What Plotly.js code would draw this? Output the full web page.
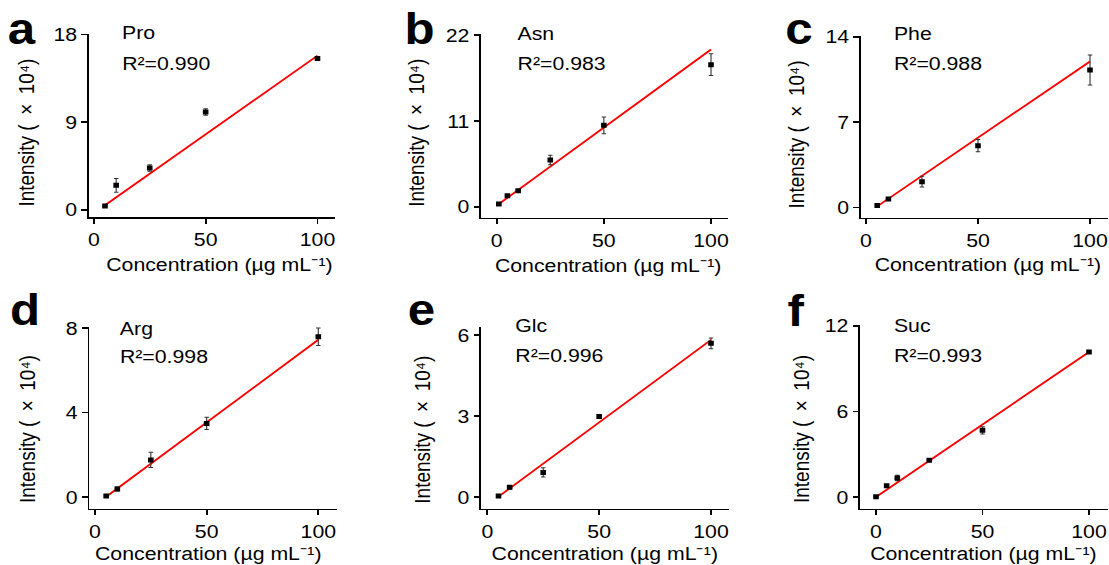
<!DOCTYPE html>
<html>
<head>
<meta charset="utf-8">
<script src="https://cdn.plot.ly/plotly-3.0.1.min.js"></script>
<style>
  html, body { margin: 0; padding: 0; background: #fff; overflow: hidden; }
  #wrap { width: 1109px; height: 565px; overflow: hidden; }
  /* the figure is laid out narrower and widened to the page width */
  #chart { width: 990px; height: 565px; transform-origin: 0 0; }
</style>
</head>
<body>
<div id="wrap"><div id="chart"></div></div>
<script>
// ---- calibration data (intensity in units of 10^4) ----
const proConc = [5, 10, 25, 50, 100];
const proInt  = [0.38, 2.5, 4.29, 10.04, 15.53];
const proErr  = [0.1, 0.7, 0.33, 0.33, 0.15];

const asnConc = [1, 5, 10, 25, 50, 100];
const asnInt  = [0.34, 1.41, 2.05, 5.98, 10.43, 18.2];
const asnErr  = [0.1, 0.15, 0.1, 0.6, 1.07, 1.4];

const pheConc = [5, 10, 25, 50, 100];
const pheInt  = [0.14, 0.68, 2.1, 5.06, 11.27];
const pheErr  = [0.05, 0.1, 0.44, 0.5, 1.23];

const argConc = [5, 10, 25, 50, 100];
const argInt  = [0.05, 0.38, 1.76, 3.49, 7.6];
const argErr  = [0.05, 0.1, 0.36, 0.29, 0.42];

const glcConc = [5, 10, 25, 50, 100];
const glcInt  = [0.04, 0.36, 0.91, 2.98, 5.69];
const glcErr  = [0.03, 0.07, 0.17, 0.07, 0.2];

const sucConc = [0, 5, 10, 25, 50, 100];
const sucInt  = [0.02, 0.79, 1.33, 2.57, 4.67, 10.16];
const sucErr  = [0.05, 0.05, 0.2, 0.08, 0.25, 0.1];

// linear fits
const fitSlope     = [0.1617, 0.2, 0.1252, 0.0784, 0.0611, 0.1016];
const fitIntercept = [-0.35, 0.15, -0.55, -0.38, -0.29, 0];
const r2Values     = ['0.990', '0.983', '0.988', '0.998', '0.996', '0.993'];

const analytes     = ['Pro', 'Asn', 'Phe', 'Arg', 'Glc', 'Suc'];
const panelLetters = ['a', 'b', 'c', 'd', 'e', 'f'];
const yTickMax     = [18, 22, 14, 8, 6, 12];
const xTickVals    = [0, 50, 100];

const concSets = [proConc, asnConc, pheConc, argConc, glcConc, sucConc];
const intSets  = [proInt, asnInt, pheInt, argInt, glcInt, sucInt];
const errSets  = [proErr, asnErr, pheErr, argErr, glcErr, sucErr];

// ---- page geometry (px on the 1109 x 565 page) ----
const W = 1109, H = 565;
const STRETCH = W / 990;
// xl/xr: x-axis ends, x0/x100: tick positions, yt/yb: y-axis ends, y0/yTop: tick 0 / top tick
const geom = [
  {xl: 88.8, xr: 335,   x0: 93.8,  x100: 317.5, yt: 33.5, yb: 217,   y0: 209.7, yTop: 34.4},
  {xl: 481,  xr: 728.3, x0: 496.7, x100: 711,   yt: 33.5, yb: 217.5, y0: 206.7, yTop: 35},
  {xl: 860.7,xr: 1108,  x0: 866,   x100: 1090,  yt: 35.5, yb: 217.5, y0: 207.3, yTop: 36.7},
  {xl: 89.3, xr: 336.7, x0: 95,    x100: 318.3, yt: 326.5,yb: 508.7, y0: 497,   yTop: 328.3},
  {xl: 481,  xr: 729.3, x0: 487.3, x100: 711,   yt: 326.5,yb: 508.7, y0: 497,   yTop: 335},
  {xl: 860,  xr: 1108,  x0: 876,   x100: 1089,  yt: 325,  yb: 508.7, y0: 497,   yTop: 325.7}
];
// text anchors (px): letter, analyte name, R^2, axis titles
const textPos = [
  {lx: 8,   lb: 43.3, nx: 121.6, nb: 39.3, rb: 70,    yx: 26.5, yc: 133, xc: 219,   xb: 270.7},
  {lx: 404, lb: 43.3, nx: 517,   nb: 40,   rb: 70,    yx: 416.5,yc: 133, xc: 608.3, xb: 271.5},
  {lx: 785, lb: 43.3, nx: 894.3, nb: 40,   rb: 70,    yx: 797,  yc: 134, xc: 987.5, xb: 271},
  {lx: 10,  lb: 325,  nx: 120,   nb: 335,  rb: 363.3, yx: 27,   yc: 429, xc: 208.3, xb: 560},
  {lx: 408, lb: 325,  nx: 515,   nb: 332,  rb: 361.7, yx: 422,  yc: 430, xc: 605,   xb: 560},
  {lx: 788, lb: 326,  nx: 893.5, nb: 331.7,rb: 361.7, yx: 801,  yc: 429, xc: 983.3, xb: 560}
];

const FONT = 'Liberation Sans, Arial, Helvetica, sans-serif';
const FS = 19;

const data = [];
const layout = {
  width: 990, height: H,
  margin: {l: 0, r: 0, t: 0, b: 0},
  paper_bgcolor: '#fff', plot_bgcolor: '#fff',
  showlegend: false,
  font: {family: FONT, size: FS, color: '#000'},
  annotations: []
};

function annot(text, px, baselinePx, size, extra) {
  return Object.assign({
    xref: 'paper', yref: 'paper',
    x: px / W, y: 1 - (baselinePx + 0.212 * size) / H,
    xanchor: 'left', yanchor: 'bottom',
    text: text, showarrow: false, borderpad: 0, borderwidth: 0,
    font: {family: FONT, size: size, color: '#000'}
  }, extra || {});
}

for (let i = 0; i < 6; i++) {
  const g = geom[i];
  const n = i + 1;
  const xs = n === 1 ? 'x' : 'x' + n;
  const ys = n === 1 ? 'y' : 'y' + n;
  const xk = n === 1 ? 'xaxis' : 'xaxis' + n;
  const yk = n === 1 ? 'yaxis' : 'yaxis' + n;

  const xScale = (g.x100 - g.x0) / 100;
  const yScale = (g.y0 - g.yTop) / yTickMax[i];

  const axisCommon = {
    showgrid: false, zeroline: false,
    showline: true, linecolor: '#000', linewidth: 1.6,
    ticks: 'outside', ticklen: 5, tickwidth: 1.6, tickcolor: '#000',
    tickfont: {family: FONT, size: FS, color: '#000'},
    fixedrange: true
  };

  layout[xk] = Object.assign({}, axisCommon, {
    domain: [g.xl / W, g.xr / W],
    range: [(g.xl - g.x0) / xScale, (g.xr - g.x0) / xScale],
    tickmode: 'array', tickvals: xTickVals,
    anchor: ys
  });
  layout[yk] = Object.assign({}, axisCommon, {
    domain: [1 - g.yb / H, 1 - g.yt / H],
    range: [-(g.yb - g.y0) / yScale, yTickMax[i] + (g.yTop - g.yt) / yScale],
    tickmode: 'array', tickvals: [0, yTickMax[i] / 2, yTickMax[i]],
    anchor: xs
  });

  // fitted line over the measured concentration span
  const c = concSets[i];
  const fx = [c[0], c[c.length - 1]];
  data.push({
    type: 'scatter', mode: 'lines', xaxis: xs, yaxis: ys,
    x: fx, y: fx.map(v => fitSlope[i] * v + fitIntercept[i]),
    line: {color: '#ff0000', width: 1.8}, hoverinfo: 'skip'
  });
  // measured means with standard deviation
  data.push({
    type: 'scatter', mode: 'markers', xaxis: xs, yaxis: ys,
    x: c, y: intSets[i],
    error_y: {type: 'data', array: errSets[i], visible: true, color: '#333', thickness: 1, width: 2},
    marker: {symbol: 'square', size: 5, color: '#000'}
  });

  const t = textPos[i];
  layout.annotations.push(annot('<b>' + panelLetters[i] + '</b>', t.lx, t.lb, 44));
  layout.annotations.push(annot(analytes[i], t.nx, t.nb, FS));
  layout.annotations.push(annot('R²=' + r2Values[i], t.nx, t.rb, FS));
  layout.annotations.push({
    xref: 'paper', yref: 'paper', x: t.yx / W, y: 1 - t.yc / H,
    xanchor: 'center', yanchor: 'middle', textangle: -90,
    text: 'Intensity (\u2002×\u200210⁴)', showarrow: false, borderpad: 0, borderwidth: 0,
    font: {family: FONT, size: FS, color: '#000'}
  });
  layout.annotations.push(annot('Concentration (µg mL⁻¹)', t.xc, t.xb, FS, {xanchor: 'center'}));
}

document.getElementById('chart').style.transform = 'scaleX(' + STRETCH + ')';
Plotly.newPlot('chart', data, layout, {displayModeBar: false, staticPlot: true});
</script>
</body>
</html>
